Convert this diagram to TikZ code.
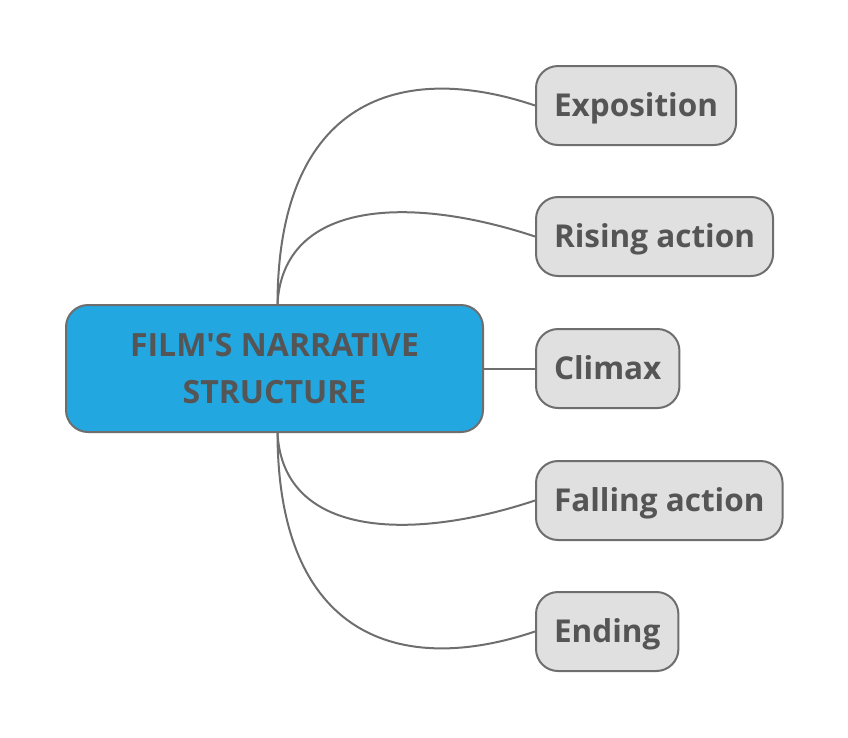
\documentclass[tikz,border=0pt]{standalone}
\usepackage{fontspec}
\setmainfont{Open Sans}
\definecolor{mainblue}{HTML}{22A7E0}
\definecolor{boxgray}{HTML}{E0E0E0}
\definecolor{linegray}{HTML}{6E6E6E}
\definecolor{textgray}{HTML}{555555}
\begin{document}
\begin{tikzpicture}[x=1pt,y=-1pt,
    central/.style={draw=linegray,line width=2pt,rounded corners=22pt,fill=mainblue,
        text=textgray,font=\bfseries\fontsize{32}{47}\selectfont,align=center,
        minimum width=417pt,minimum height=127pt},
    topic/.style={draw=linegray,line width=2pt,rounded corners=22pt,fill=boxgray,
        text=textgray,font=\bfseries\fontsize{31.5}{36}\selectfont,
        text height=27pt,text depth=6pt,
        minimum height=79pt,inner xsep=18pt,anchor=west},
    link/.style={draw=linegray,line width=2pt}]
\useasboundingbox (0,0) rectangle (848,737);
\node[central] (c) at (274.5,368.5) {FILM\textquotesingle S NARRATIVE\\STRUCTURE};
\foreach \n/\y/\t in {expo/105.5/Exposition,rise/236.5/Rising action,clim/368.5/Climax,
    fall/500.5/Falling action,end/631.5/Ending} {
    \node[topic] (\n) at (535,\y) {\t};
}
\draw[link] ([xshift=3pt]c.north) .. controls (278,100) and (400,60) .. (expo.west);
\draw[link] ([xshift=3pt]c.north) .. controls (283,200) and (410,195) .. (rise.west);
\draw[link] (c.east) -- (clim.west);
\draw[link] ([xshift=3pt]c.south) .. controls (283,537) and (410,542) .. (fall.west);
\draw[link] ([xshift=3pt]c.south) .. controls (278,637) and (400,677) .. (end.west);
\end{tikzpicture}
\end{document}
